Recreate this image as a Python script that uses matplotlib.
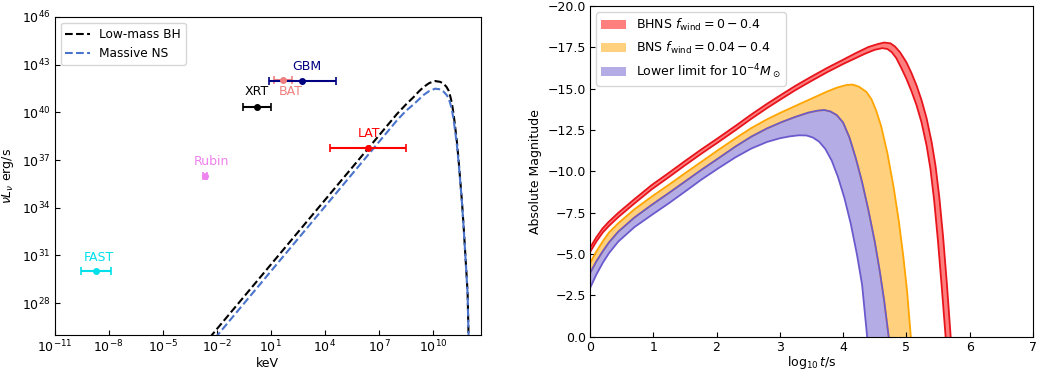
import numpy as np
import matplotlib
matplotlib.use("Agg")
import matplotlib.pyplot as plt

# ---------------- Left panel data ----------------
bh_logE = [-2.4, -2.27, 8.0, 8.5, 8.92, 9.2, 9.48, 9.8, 10.12, 10.4, 10.59, 10.75, 10.86,
           10.96, 11.05, 11.14, 11.23, 11.33, 11.42, 11.51, 11.6, 11.7, 11.79, 11.86, 11.92, 11.97, 12.0]
bh_logL = [25.83, 26.0, 39.9, 40.5, 40.96, 41.3, 41.6, 41.85, 41.97, 41.92, 41.8, 41.6, 41.38,
           41.0, 40.55, 39.9, 39.08, 38.1, 36.98, 35.75, 34.46, 32.8, 31.1, 29.8, 28.6, 26.0, 25.0]
ns_logE = [-2.1, -1.95, 8.0, 8.5, 8.92, 9.2, 9.48, 9.8, 10.12, 10.4, 10.59, 10.75, 10.86,
           10.96, 11.05, 11.14, 11.23, 11.33, 11.42, 11.51, 11.6, 11.7, 11.79, 11.86, 11.92, 11.97, 12.0]
ns_logL = [25.8, 26.0, 39.5, 40.1, 40.5, 40.8, 41.1, 41.35, 41.49, 41.45, 41.3, 41.1, 40.9,
           40.55, 40.15, 39.55, 38.8, 37.9, 36.85, 35.65, 34.4, 32.75, 31.05, 29.75, 28.55, 26.0, 25.0]

inst_names = ["FAST", "Rubin", "XRT", "BAT", "GBM", "LAT"]
inst_Elo = [2.9e-10, 1.83e-3, 0.3, 15.0, 8.0, 2.0e4]
inst_Ehi = [1.3e-8, 2.75e-3, 10.0, 150.0, 4.0e4, 3.0e8]
inst_L = [1.0e30, 9.5e35, 2.2e40, 1.15e42, 9.0e41, 5.5e37]
inst_colors = ["#00e0ea", "violet", "black", "lightcoral", "navy", "red"]
label_logE = [-8.52, -2.31, 0.24, 2.08, 3.02, 6.46]
label_logL = [30.9, 36.92, 41.32, 41.32, 42.9, 38.7]

xtick_exp = [-11, -8, -5, -2, 1, 4, 7, 10]
ytick_exp = [28, 31, 34, 37, 40, 43, 46]

# ---------------- Right panel data ----------------
red_out_x = [0, 0.1, 0.2, 0.3, 0.447, 0.7, 0.975, 1.25, 1.5, 1.75, 2.03, 2.3, 2.55, 2.8, 3.0,
             3.25, 3.5, 3.75, 4.0, 4.2, 4.4, 4.55, 4.65, 4.75, 4.82, 4.9, 5.0, 5.08, 5.16, 5.24,
             5.32, 5.4, 5.46, 5.52, 5.58, 5.64, 5.7, 5.72]
red_out_y = [-5.37, -6.01, -6.55, -6.96, -7.49, -8.31, -9.17, -9.92, -10.62, -11.3, -12.03,
             -12.75, -13.44, -14.09, -14.58, -15.18, -15.73, -16.26, -16.75, -17.15, -17.52,
             -17.7, -17.79, -17.74, -17.55, -17.2, -16.6, -15.95, -15.2, -14.3, -13.2, -11.75,
             -10.35, -8.45, -6.05, -3.2, 0.0, 1.0]
red_in_x = [0, 0.1, 0.2, 0.3, 0.447, 0.7, 0.975, 1.25, 1.5, 1.75, 2.03, 2.3, 2.55, 2.8, 3.0,
            3.25, 3.5, 3.75, 4.0, 4.2, 4.35, 4.5, 4.62, 4.7, 4.77, 4.84, 4.92, 5.0, 5.08, 5.16,
            5.24, 5.32, 5.38, 5.44, 5.5, 5.56, 5.62, 5.64]
red_in_y = [-5.11, -5.75, -6.29, -6.7, -7.23, -8.05, -8.91, -9.66, -10.36, -11.04, -11.77,
            -12.49, -13.18, -13.83, -14.32, -14.92, -15.47, -16.0, -16.49, -16.85, -17.12,
            -17.35, -17.45, -17.4, -17.2, -16.85, -16.25, -15.6, -14.85, -14.0, -12.95, -11.55,
            -10.15, -8.2, -5.75, -2.95, 0.0, 1.0]

orange_top_x = [0, 0.1, 0.2, 0.3, 0.447, 0.7, 0.975, 1.25, 1.5, 1.75, 2.03, 2.3, 2.55, 2.8,
                3.03, 3.3, 3.53, 3.75, 3.9, 4.05, 4.15, 4.25, 4.37, 4.45, 4.52, 4.6, 4.7, 4.8,
                4.88, 4.95, 5.01, 5.07, 5.1]
orange_top_y = [-4.44, -5.15, -5.75, -6.3, -6.86, -7.7, -8.47, -9.2, -9.88, -10.55, -11.3,
                -12.0, -12.62, -13.15, -13.58, -14.05, -14.45, -14.83, -15.06, -15.22, -15.25,
                -15.12, -14.8, -14.35, -13.7, -12.75, -11.1, -9.0, -7.0, -4.9, -2.8, 0.0, 1.0]
shared_x = [0, 0.1, 0.2, 0.3, 0.447, 0.7, 0.975, 1.25, 1.5, 1.75, 2.03, 2.3, 2.55, 2.8, 3.03,
            3.25, 3.45, 3.6, 3.7, 3.8, 3.9, 4.0, 4.1, 4.2, 4.3, 4.4, 4.5, 4.58, 4.65, 4.72, 4.75]
shared_y = [-3.83, -4.55, -5.15, -5.7, -6.35, -7.2, -7.97, -8.7, -9.38, -10.06, -10.79, -11.5,
            -12.1, -12.6, -12.98, -13.3, -13.55, -13.67, -13.71, -13.62, -13.4, -12.95, -12.05,
            -10.8, -9.35, -7.65, -5.75, -3.95, -2.15, 0.0, 1.0]
purple_low_x = [0, 0.1, 0.2, 0.3, 0.447, 0.7, 0.975, 1.25, 1.5, 1.75, 2.03, 2.3, 2.55, 2.8,
                3.0, 3.15, 3.3, 3.42, 3.52, 3.62, 3.72, 3.82, 3.92, 4.02, 4.12, 4.22, 4.3, 4.38,
                4.4]
purple_low_y = [-2.93, -3.75, -4.45, -5.05, -5.75, -6.62, -7.36, -8.08, -8.77, -9.47, -10.19,
                -10.85, -11.38, -11.78, -12.0, -12.11, -12.18, -12.17, -12.05, -11.8, -11.35,
                -10.65, -9.65, -8.4, -6.85, -4.95, -3.15, 0.0, 1.0]

labels_right = [r"BHNS $f_{\rm wind}=0-0.4$", r"BNS $f_{\rm wind}=0.04-0.4$",
                r"Lower limit for $10^{-4}M_\odot$"]

# ---------------- Figure ----------------
fig = plt.figure(figsize=(10.49, 3.74), dpi=100)
fs = 9

ax1 = fig.add_axes([0.0520, 0.1043, 0.4065, 0.8503])
ax1.set_xscale("log")
ax1.set_yscale("log")
ax1.plot(10.0 ** np.array(bh_logE), 10.0 ** np.array(bh_logL), "--", color="black",
         lw=1.5, label="Low-mass BH")
ax1.plot(10.0 ** np.array(ns_logE), 10.0 ** np.array(ns_logL), "--", color="#4a74cc",
         lw=1.5, label="Massive NS")
for name, lo, hi, L, c, lx, ly in zip(inst_names, inst_Elo, inst_Ehi, inst_L, inst_colors,
                                     label_logE, label_logL):
    E = np.sqrt(lo * hi)
    ax1.errorbar([E], [L], xerr=[[E - lo], [hi - E]], fmt="o", color=c, ms=4,
                 capsize=3, lw=1.5, capthick=1.2)
    ax1.text(10.0 ** lx, 10.0 ** ly, name, color=c, ha="center", va="center", fontsize=fs)
ax1.set_xlim(1e-11, 10 ** 12.66)
ax1.set_ylim(1e26, 1e46)
ax1.set_xticks([10.0 ** e for e in xtick_exp])
ax1.set_xticklabels([r"$10^{%d}$" % e for e in xtick_exp])
ax1.set_yticks([10.0 ** e for e in ytick_exp])
ax1.set_yticklabels([r"$10^{%d}$" % e for e in ytick_exp])
ax1.minorticks_off()
ax1.tick_params(direction="in", labelsize=fs, pad=3)
ax1.set_xlabel("keV", fontsize=fs, labelpad=1)
ax1.set_ylabel(r"$\nu L_\nu$ erg/s", fontsize=fs)
ax1.legend(loc="upper left", fontsize=8.7, handlelength=2.0)

ax2 = fig.add_axes([0.5624, 0.0997, 0.4223, 0.8843])


def band(ax, x1, y1, x2, y2, fc, ec, label):
    xs = np.concatenate([np.array(x1), np.array(x2)[::-1]])
    ys = np.concatenate([np.array(y1), np.array(y2)[::-1]])
    ax.fill(xs, ys, facecolor=fc, alpha=0.5, edgecolor="none", label=label)
    ax.plot(x1, y1, color=ec, lw=1.3, solid_joinstyle="round")
    ax.plot(x2, y2, color=ec, lw=1.3, solid_joinstyle="round")


band(ax2, red_out_x, red_out_y, red_in_x, red_in_y, "red", "#e8141c", labels_right[0])
band(ax2, orange_top_x, orange_top_y, shared_x, shared_y, "orange", "orange", labels_right[1])
band(ax2, shared_x, shared_y, purple_low_x, purple_low_y, "slateblue", "slateblue",
     labels_right[2])
ax2.set_xlim(0, 7)
ax2.set_ylim(0, -20)
ax2.set_yticks([0, -2.5, -5, -7.5, -10, -12.5, -15, -17.5, -20])
ax2.set_yticklabels(["0.0", "\u22122.5", "\u22125.0", "\u22127.5", "\u221210.0",
                     "\u221212.5", "\u221215.0", "\u221217.5", "\u221220.0"])
ax2.tick_params(direction="in", labelsize=fs, pad=3)
ax2.set_xlabel(r"$\log_{10}t$/s", fontsize=fs, labelpad=0)
ax2.set_ylabel("Absolute Magnitude", fontsize=fs)
ax2.legend(loc="upper left", fontsize=fs)

fig.savefig("out.png", dpi=100)
